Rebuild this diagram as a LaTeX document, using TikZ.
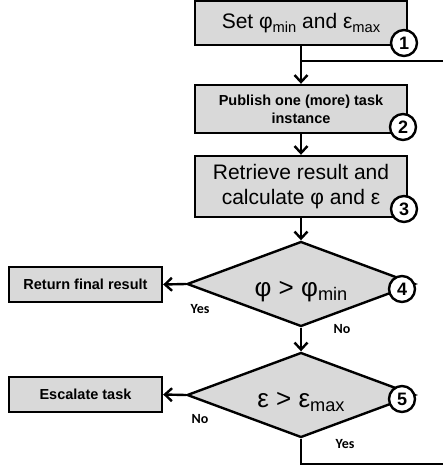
\documentclass[tikz,border=0pt]{standalone}
\usepackage{fontspec}
\setmainfont{Liberation Sans}
\newfontfamily\labfont{Carlito}
\usetikzlibrary{shapes.geometric,arrows.meta}
\definecolor{boxgray}{RGB}{217,217,217}
\newcommand\lsub[1]{\raisebox{-0.35ex}{\scalebox{0.7}{#1}}}
\begin{document}
\begin{tikzpicture}[x=1pt,y=-1pt,
  box/.style={draw, line width=2.4pt, fill=boxgray, rectangle, inner sep=0pt, align=center, minimum width=212pt},
  sbox/.style={draw, line width=2.4pt, fill=boxgray, rectangle, inner sep=0pt, align=center, minimum width=153pt, minimum height=35pt, font=\fontsize{14.5}{17}\selectfont\bfseries},
  dia/.style={draw, line width=2.4pt, fill=boxgray, diamond, aspect=2.68, minimum width=228pt, minimum height=85pt, inner sep=0pt, text height=24pt, text depth=0pt, font=\fontsize{26}{28}\selectfont},
  num/.style={circle, draw, line width=2.4pt, fill=white, minimum size=26pt, inner sep=0pt, font=\fontsize{18}{18}\selectfont\bfseries},
  arr/.style={line width=2.4pt, -{Straight Barb[length=7pt,width=13pt]}},
  conn/.style={line width=2.4pt},
  lab/.style={inner sep=0pt, font=\labfont\bfseries\fontsize{14}{14}\selectfont}]
\useasboundingbox (0,0) rectangle (443,468);
% boxes
\node[box, minimum height=44pt, font=\fontsize{21}{25}\selectfont] (b1) at (301,23) {Set φ\lsub{min} and ε\lsub{max}};
\node[box, minimum height=48pt, font=\fontsize{14.5}{18}\selectfont\bfseries] (b2) at (301,109) {Publish one (more) task\\instance};
\node[box, minimum height=61pt, font=\fontsize{21}{25}\selectfont] (b3) at (301,186.5) {Retrieve result and\\calculate φ and ε};
\node[dia] (d4) at (301,284) {φ > φ\lsub{min}};
\node[dia] (d5) at (301,395) {ε > ε\lsub{max}};
\node[sbox] (r4) at (85.5,284.5) {Return final result};
\node[sbox] (r5) at (85.5,394.5) {Escalate task};
% connectors
\draw[arr] (b1.south) -- (b2.north);
\coordinate (j) at (301,61);
\coordinate (e1) at (443,61);
\draw[conn] (j) -- (e1);
\draw[arr] (b2.south) -- (b3.north);
\draw[arr] (b3.south) -- (d4.north);
\draw[arr] (d4.south) -- (d5.north);
\draw[arr] (d4.west) -- (r4.east);
\draw[arr] (d5.west) -- (r5.east);
\coordinate (e2) at (443,464);
\draw[conn] (d5.south) |- (e2);
% numbers
\node[num] (c1) at (404,43) {1};
\node[num] (c2) at (403,127) {2};
\node[num] (c3) at (404,209) {3};
\node[num] (c4) at (402,289) {4};
\node[num] (c5) at (402,399) {5};
% labels
\node[lab] (y4) at (200,309) {Yes};
\node[lab] (n4) at (342,329) {No};
\node[lab] (n5) at (200,419) {No};
\node[lab] (y5) at (345,444) {Yes};
\end{tikzpicture}
\end{document}
